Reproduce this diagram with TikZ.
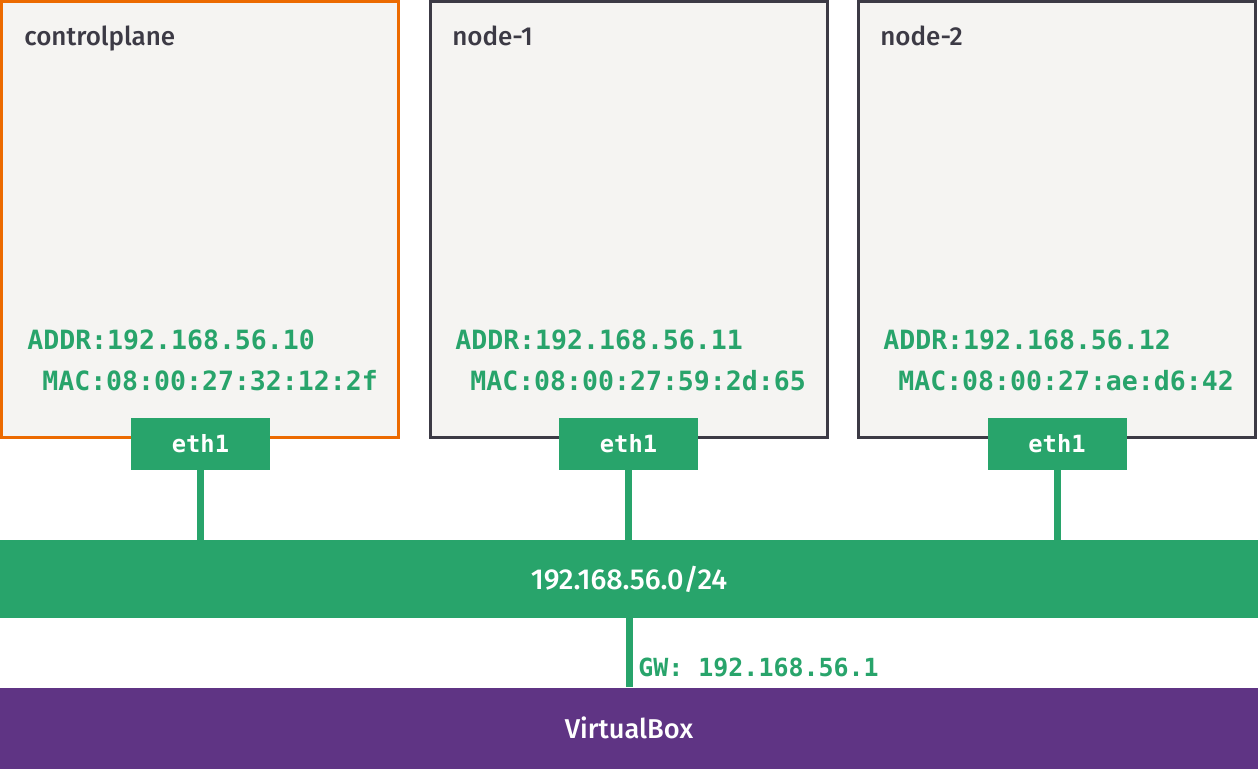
\documentclass[tikz,border=0pt]{standalone}
\usepackage{fontspec}
\newfontfamily\labelfont{Fira Sans Medium}
\setmonofont{DejaVu Sans Mono}
\usetikzlibrary{positioning}

\definecolor{netgreen}{HTML}{28A46B}
\definecolor{cpborder}{HTML}{EC6A00}
\definecolor{nodeborder}{HTML}{3C3A45}
\definecolor{boxfill}{HTML}{F5F4F2}
\definecolor{vbpurple}{HTML}{5F3484}

\newcommand{\pxu}{0.02cm}

\tikzset{
  vmbox/.style={draw=nodeborder, fill=boxfill, line width=3*\pxu,
    minimum width=397*\pxu, minimum height=436*\pxu, inner sep=0},
  vmtitle/.style={inner sep=0, anchor=base west, text=nodeborder,
    font=\labelfont\fontsize{14.8pt}{17pt}\selectfont},
  addr/.style={inner sep=0, anchor=base west, text=netgreen,
    font=\ttfamily\bfseries\fontsize{15.1pt}{18pt}\selectfont},
  ethport/.style={fill=netgreen, text=white, inner sep=0,
    minimum width=139*\pxu, minimum height=52*\pxu,
    font=\ttfamily\bfseries\fontsize{13.5pt}{16pt}\selectfont},
  bar/.style={inner sep=0, text=white, minimum width=1258*\pxu,
    font=\labelfont\fontsize{15.5pt}{18pt}\selectfont},
  link/.style={draw=netgreen, line width=7*\pxu}
}

\begin{document}
\begin{tikzpicture}[x=\pxu, y=-\pxu]
  \useasboundingbox (0,0) rectangle (1258,768);

  % virtual machines
  \node[vmbox, draw=cpborder] (cp) at (200,219.5) {};
  \node[vmbox] (n1) at (629,219.5) {};
  \node[vmbox] (n2) at (1057,219.5) {};

  \node[vmtitle] (cp-title) at (24,45) {controlplane};
  \node[vmtitle] (n1-title) at (452,45) {node-1};
  \node[vmtitle] (n2-title) at (880,45) {node-2};

  \node[addr] (cp-addr) at (27,349) {ADDR:192.168.56.10};
  \node[addr] (cp-mac) at (42,390) {MAC:08:00:27:32:12:2f};
  \node[addr] (n1-addr) at (455,349) {ADDR:192.168.56.11};
  \node[addr] (n1-mac) at (470,390) {MAC:08:00:27:59:2d:65};
  \node[addr] (n2-addr) at (883,349) {ADDR:192.168.56.12};
  \node[addr] (n2-mac) at (898,390) {MAC:08:00:27:ae:d6:42};

  % interfaces
  \node[ethport] (cp-eth) at (200.5,444) {eth1};
  \node[ethport] (n1-eth) at (628.5,444) {eth1};
  \node[ethport] (n2-eth) at (1057,444) {eth1};

  % network and host
  \node[bar, fill=netgreen, minimum height=78*\pxu,
    font=\labelfont\fontsize{16.4pt}{19pt}\selectfont] (net) at (629,579) {192.168.56.0/24};
  \node[bar, fill=vbpurple, minimum height=81*\pxu] (vbox) at (629,728) {VirtualBox};

  \path[link]
  (cp-eth.south) -- (cp-eth.south |- net.north)
  (n1-eth.south) -- (n1-eth.south |- net.north)
  (n2-eth.south) -- (n2-eth.south |- net.north)
  (net.south) -- (vbox.north);

  \node[addr, font=\ttfamily\bfseries\fontsize{14.2pt}{17pt}\selectfont] (gw) at (638,676) {GW: 192.168.56.1};
\end{tikzpicture}
\end{document}
